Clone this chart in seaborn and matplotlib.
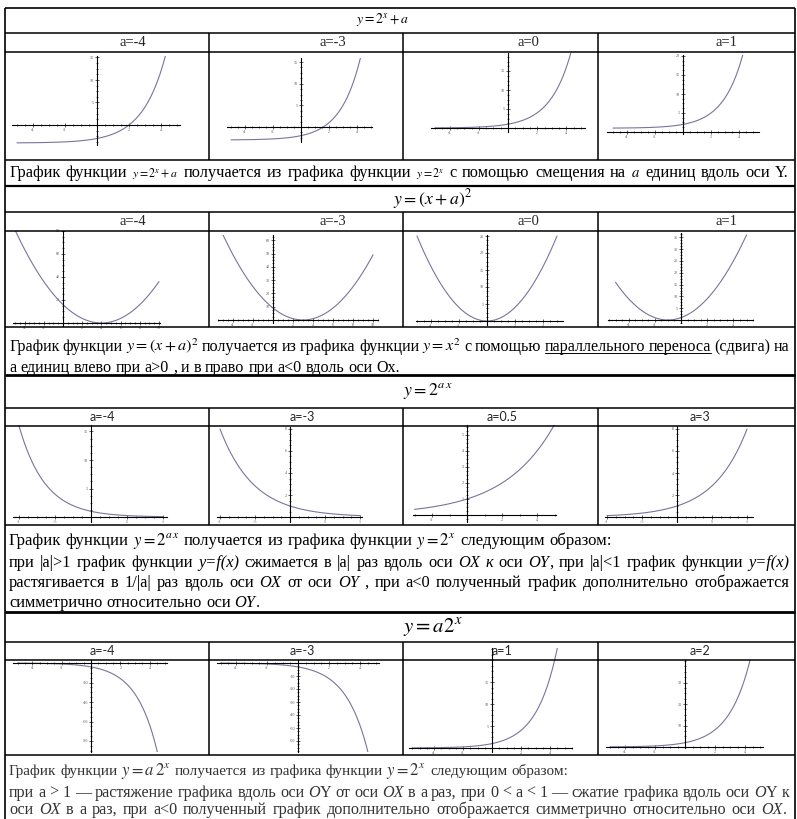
import numpy as np
import matplotlib
matplotlib.use("Agg")
import matplotlib.pyplot as plt
from matplotlib.lines import Line2D
from matplotlib.ticker import FixedLocator, AutoMinorLocator, FuncFormatter
import seaborn as sns

# ---------------------------------------------------------------- data
# parameter a used in each column of the four blocks
a_shift = [-4, -3, 0, 1]          # y = 2^x + a
a_translate = [-4, -3, 0, 1]      # y = (x + a)^2
a_stretch = [-4, -3, 0.5, 3]      # y = 2^(a x)
a_scale = [-4, -3, 1, 2]          # y = a 2^x

# x-interval over which each curve is drawn
x_span_shift = [(-5, 5), (-5, 5), (-5, 5), (-5, 5)]
x_span_translate = [(-5, 10), (-5, 10), (-5, 5), (-5, 5)]
x_span_stretch = [(-1, 1), (-1, 1), (-3, 5), (-1, 1)]
x_span_scale = [(-5, 5), (-5, 5), (-5.5, 5), (-5, 5)]

# labelled ticks of every small plot
xticks_shift = [[-4, -2, 2, 4]] * 4
yticks_shift = [[5, 10, 15], [5, 10, 15], [5, 10, 15], [5, 10, 15, 20]]
xticks_translate = [[-4, -2, 2, 4, 6, 8, 10], [-4, -2, 2, 4, 6, 8, 10],
                    [-4, -2, 2, 4], [-4, -2, 2, 4]]
yticks_translate = [[20, 40, 60, 80], [10, 20, 30, 40, 50, 60],
                    [5, 10, 15, 20, 25], [5, 10, 15, 20, 25, 30, 35]]
xticks_stretch = [[-1, -0.5, 0.5, 1], [-1, -0.5, 0.5, 1], [-2, 2, 4], [-1, -0.5, 0.5, 1]]
yticks_stretch = [[5, 10, 15], [2, 4, 6, 8], [1, 2, 3, 4, 5], [2, 4, 6, 8]]
xticks_scale = [[-4, -2, 2, 4]] * 4
yticks_scale = [[-80, -60, -40, -20], [-60, -50, -40, -30, -20, -10],
                [5, 10, 15], [10, 20, 30]]

# ---------------------------------------------------------------- layout
W, H = 797, 819
L_EDGE, R_EDGE = 5, 795
COLS = [5, 209, 403, 598, 795]

# (origin x px, origin y px, px per x unit, px per y unit, xlim, ylim)
GEOM = [
    [(97, 125, 16, 4.5, (-5.3, 5.2), (-4.4, 15.3)),
     (301, 127, 14, 4.33, (-5.3, 5.1), (-3.5, 15.9)),
     (508, 128, 14.6, 3.8, (-5.3, 5.3), (-1, 19.7)),
     (683, 132, 14, 3.8, (-5.4, 5.4), (-0.5, 20.3))],
    [(63, 323, 9.6, 1.15, (-5.2, 10.1), (-3, 80)),
     (273, 320, 10, 1.33, (-5.5, 10.5), (-2.3, 64)),
     (487, 321, 14, 3.4, (-5.1, 5.4), (-1.2, 25.3)),
     (681, 320, 13.1, 2.36, (-5.6, 5.5), (-1.3, 36.8))],
    [(91, 517, 72, 5.7, (-1.08, 1.06), (-0.9, 16.2)),
     (290, 517, 70, 11, (-1.04, 1.03), (-0.45, 8.2)),
     (467, 515, 17.5, 16, (-3.1, 5.1), (-0.44, 5.6)),
     (677, 517, 70, 11, (-1.03, 1.09), (-0.45, 8.3))],
    [(91, 663, 14.7, 0.975, (-5.3, 5.2), (-91.3, 3)),
     (298, 663, 15.5, 1.3, (-5.2, 5.2), (-68.5, 2.3)),
     (492, 748, 14.5, 4.4, (-5.7, 5.5), (-0.9, 22.7)),
     (685, 747, 15, 2.15, (-5.3, 5.2), (-0.5, 40.5))],
]

CURVE = "#76769c"
SERIF = ["Liberation Serif", "DejaVu Serif"]
SANS = ["Lato", "DejaVu Sans"]

sns.set_theme(style="white")
plt.rcParams["font.family"] = SERIF
plt.rcParams["mathtext.fontset"] = "stix"

fig = plt.figure(figsize=(W / 100, H / 100), dpi=100)
fig.patch.set_facecolor("white")
renderer = fig.canvas.get_renderer()


def fx(x):
    return x / W


def fy(y):
    return 1 - y / H


def hline(y, x0=L_EDGE, x1=R_EDGE, lw=1.1):
    fig.add_artist(Line2D([fx(x0), fx(x1)], [fy(y), fy(y)], color="black",
                          lw=lw, transform=fig.transFigure, solid_capstyle="butt"))


def vline(x, y0, y1, lw=1.1):
    fig.add_artist(Line2D([fx(x), fx(x)], [fy(y0), fy(y1)], color="black",
                          lw=lw, transform=fig.transFigure, solid_capstyle="butt"))


# ---------------------------------------------------------------- table grid
for y, lw in [(8, 1.2), (33, 1.1), (52, 1.1), (160, 1.1), (186, 1.6),
              (212, 1.1), (231, 1.1), (327, 1.1), (375, 2.0), (408, 1.1),
              (426, 1.1), (525, 1.1), (612, 2.0), (642, 1.1), (660, 1.1),
              (755, 1.1)]:
    hline(y, lw=lw)
vline(L_EDGE, 8, H, lw=1.2)
vline(R_EDGE, 8, H, lw=1.2)
for top, bottom in [(33, 160), (212, 327), (408, 525), (642, 755)]:
    for x in COLS[1:-1]:
        vline(x, top, bottom)


# ---------------------------------------------------------------- text helpers
def fit_text(s, x_left, y_mid, width, color="black"):
    t = fig.text(fx(x_left), fy(y_mid), s, fontsize=12, va="center", ha="left", color=color)
    w = t.get_window_extent(renderer).width
    t.set_fontsize(12 * width / w)
    return t


def draw_line(segments, y, size, x0=9, width=None, color="black"):
    tokens = []
    prev_space = True
    for seg in segments:
        text, kind = seg[0], seg[1]
        scale = seg[2] if len(seg) > 2 else 1.0
        if kind == "m":
            tokens.append((text, kind, scale, not prev_space))
            prev_space = False
            continue
        lead = text.startswith(" ")
        for k, word in enumerate(text.split()):
            glue = (k == 0 and not lead and not prev_space)
            tokens.append((word, kind, scale, glue))
        prev_space = text.endswith(" ")

    items = []
    for word, kind, scale, glue in tokens:
        kw = dict(fontsize=size * scale, va="baseline", ha="left", color=color)
        if kind in ("r", "u"):
            kw["family"] = SERIF
        elif kind == "i":
            kw["family"] = SERIF
            kw["style"] = "italic"
        t = fig.text(0, fy(y), word, **kw)
        w = t.get_window_extent(renderer).width
        items.append([t, w, kind, glue])

    space = 0.25 * size * 100 / 72
    ngaps = sum(1 for it in items[1:] if not it[3])
    total = sum(it[1] for it in items)
    if width is not None and ngaps:
        gap = max((width - total) / ngaps, 0.5 * space)
    else:
        gap = space

    x = x0
    ul_start = None
    ul_end = None
    for i, (t, w, kind, glue) in enumerate(items):
        if i > 0 and not glue:
            x += gap
        t.set_x(fx(x))
        if kind == "u":
            if ul_start is None:
                ul_start = x
            ul_end = x + w
        elif ul_start is not None:
            fig.add_artist(Line2D([fx(ul_start), fx(ul_end)], [fy(y + 2.2), fy(y + 2.2)],
                                  color=color, lw=0.7, transform=fig.transFigure))
            ul_start = None
        x += w


# ---------------------------------------------------------------- titles
fit_text(r"$y = 2^{x} + a$", 356, 20, 53)
fit_text(r"$y = (x + a)^{2}$", 393, 199, 79)
fit_text(r"$y = 2^{a\,x}$", 403, 391, 50)
fit_text(r"$y = a2^{x}$", 403, 628, 60)

# ---------------------------------------------------------------- column headers
HEAD_X_SERIF = [133, 333, 528, 726]
HEAD_X_SANS = [102, 302, 502, 700]
for vals, ymid in [(a_shift, 42), (a_translate, 222)]:
    for xc, a in zip(HEAD_X_SERIF, vals):
        fig.text(fx(xc), fy(ymid), f"a={a:g}", fontsize=10.5, ha="center", va="center",
                 family=SERIF)
for vals, ymid in [(a_stretch, 417), (a_scale, 651)]:
    for xc, a in zip(HEAD_X_SANS, vals):
        fig.text(fx(xc), fy(ymid), f"a={a:g}", fontsize=9, ha="center", va="center",
                 family=SANS)

# ---------------------------------------------------------------- small plots
functions = [
    lambda x, a: 2.0 ** x + a,
    lambda x, a: (x + a) ** 2,
    lambda x, a: 2.0 ** (a * x),
    lambda x, a: a * 2.0 ** x,
]
params = [a_shift, a_translate, a_stretch, a_scale]
spans = [x_span_shift, x_span_translate, x_span_stretch, x_span_scale]
xticks = [xticks_shift, xticks_translate, xticks_stretch, xticks_scale]
yticks = [yticks_shift, yticks_translate, yticks_stretch, yticks_scale]


def tick_fmt(v, _pos):
    s = f"{v:g}"
    return s.replace("0.", ".")


for r in range(4):
    for c in range(4):
        ox, oy, sx, sy, xl, yl = GEOM[r][c]
        left, right = ox + xl[0] * sx, ox + xl[1] * sx
        top, bottom = oy - yl[1] * sy, oy - yl[0] * sy
        ax = fig.add_axes([fx(left), fy(bottom), (right - left) / W, (bottom - top) / H])
        xs = np.linspace(spans[r][c][0], spans[r][c][1], 400)
        sns.lineplot(x=xs, y=functions[r](xs, params[r][c]), ax=ax,
                     color=CURVE, lw=0.8)
        ax.set_xlim(*xl)
        ax.set_ylim(*yl)
        ax.set_facecolor("none")
        ax.grid(False)
        ax.set_xlabel("")
        ax.set_ylabel("")
        for s in ("top", "right"):
            ax.spines[s].set_visible(False)
        for s in ("left", "bottom"):
            ax.spines[s].set_visible(True)
            ax.spines[s].set_position("zero")
            ax.spines[s].set_color("black")
            ax.spines[s].set_linewidth(0.8)
        ax.xaxis.set_major_locator(FixedLocator(xticks[r][c]))
        ax.yaxis.set_major_locator(FixedLocator(yticks[r][c]))
        ax.xaxis.set_minor_locator(AutoMinorLocator(4))
        ax.yaxis.set_minor_locator(AutoMinorLocator(4))
        ax.xaxis.set_major_formatter(FuncFormatter(tick_fmt))
        ax.yaxis.set_major_formatter(FuncFormatter(tick_fmt))
        ax.tick_params(which="both", bottom=True, left=True, direction="inout",
                       color="#222222", width=0.5)
        ax.tick_params(which="major", length=2.6, labelsize=3, labelcolor="#555555", pad=0.8)
        ax.tick_params(which="minor", length=1.4)
        for lab in ax.get_xticklabels() + ax.get_yticklabels():
            lab.set_family(SERIF)

# ---------------------------------------------------------------- explanatory text
draw_line([("График функции ", "r"), (r"$y=2^{x}+a$", "m", 0.72),
           (" получается из графика функции ", "r"), (r"$y=2^{x}$", "m", 0.72),
           (" с помощью  смещения на ", "r"), (r"$a$", "m", 0.9),
           (" единиц вдоль оси Y.", "r")], 177, 11.8, width=780)

draw_line([("График функции ", "r"), (r"$y=(x+a)^{2}$", "m", 1.0),
           (" получается из графика функции ", "r"), (r"$y=x^{2}$", "m", 1.0),
           (" с помощью ", "r"), ("параллельного переноса", "u"),
           (" (сдвига) на", "r")], 351, 11.6, width=780)
draw_line([("а единиц влево при а>0 , и в право при а<0 вдоль оси Ох.", "r")], 372, 11.6)

draw_line([("График функции ", "r"), (r"$y=2^{a\,x}$", "m", 1.0),
           ("  получается из графика функции  ", "r"), (r"$y=2^{x}$", "m", 1.0),
           (" следующим образом:", "r")], 545, 12)
draw_line([("при |a|>1 график функции ", "r"), ("y=f(x)", "i"),
           (" сжимается в |a| раз вдоль оси ", "r"), ("OX к", "i"), (" оси ", "r"),
           ("OY", "i"), (", при |a|<1 график функции ", "r"), ("y=f(x)", "i")],
          567, 11.8, width=780)
draw_line([("растягивается в 1/|a| раз вдоль оси ", "r"), ("OX", "i"), (" от оси ", "r"),
           ("OY", "i"), (" , при a<0 полученный график дополнительно отображается", "r")],
          587, 11.8, width=780)
draw_line([("симметрично относительно оси ", "r"), ("OY", "i"), (".", "r")], 607, 11.8)

GRAY = "#333333"
draw_line([("График функции ", "r"), (r"$y=a\,2^{x}$", "m", 1.1),
           (" получается из графика функции  ", "r"), (r"$y=2^{x}$", "m", 1.1),
           (" следующим образом:", "r")], 775, 10.9, color=GRAY)
draw_line([("при а > 1 — растяжение графика вдоль оси ", "r"), ("O", "i"),
           ("Y от оси ", "r"), ("OX", "i"),
           (" в а раз, при 0 < а < 1 — сжатие графика вдоль оси ", "r"), ("O", "i"),
           ("Y к", "r")], 797, 11.6, width=780, color=GRAY)
draw_line([("оси ", "r"), ("OX", "i"),
           (" в а раз, при а<0 полученный график дополнительно отображается симметрично относительно оси ", "r"),
           ("OX", "i"), (".", "r")], 814, 11.6, width=778, color=GRAY)

fig.savefig("out.png", dpi=100)
